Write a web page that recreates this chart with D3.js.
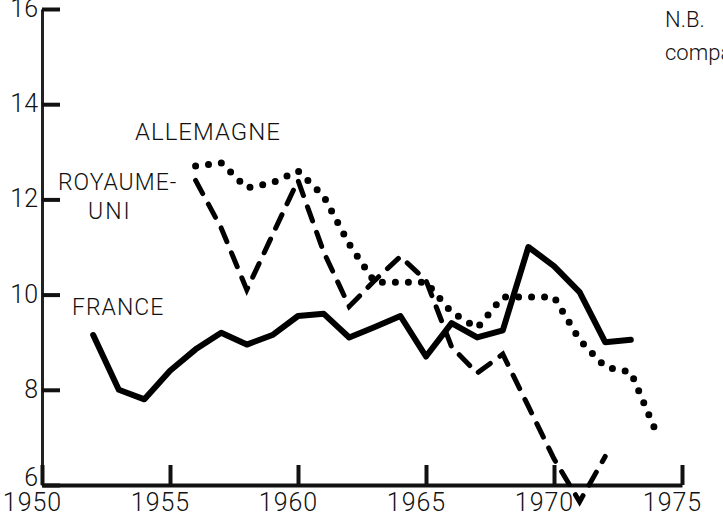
<!DOCTYPE html>
<html>
<head>
<meta charset="utf-8">
<script src="https://cdn.jsdelivr.net/npm/d3@7"></script>
<style>
  body { margin: 0; background: #fff; }
  svg { display: block; }
  text { font-family: Roboto, "DejaVu Sans", sans-serif; font-weight: 300; fill: #111; }
</style>
</head>
<body>
<div id="chart"></div>
<script>
// values
var franceYears = d3.range(1952, 1974);
var franceValues = [9.15, 8.0, 7.8, 8.4, 8.85, 9.2, 8.95, 9.15, 9.55, 9.6, 9.1, 9.32, 9.55, 8.7, 9.4, 9.1, 9.25, 11.0, 10.6, 10.05, 9.0, 9.05];

var ukYears = d3.range(1956, 1973);
var ukValues = [12.4, 11.4, 10.1, 11.25, 12.4, 10.9, 9.75, 10.3, 10.8, 10.3, 8.9, 8.35, 8.75, 7.65, 6.55, 5.65, 6.6];

var germanyYears = d3.range(1956, 1975);
var germanyValues = [12.7, 12.77, 12.24, 12.35, 12.6, 12.07, 11.06, 10.26, 10.26, 10.26, 9.63, 9.3, 9.95, 9.95, 9.95, 9.05, 8.48, 8.37, 7.1];

var xTicks = [1950, 1955, 1960, 1965, 1970, 1975];
var yTicks = [6, 8, 10, 12, 14, 16];

var svgWidth = 723, svgHeight = 512;

var svg = d3.select("#chart")
  .append("svg")
  .attr("width", svgWidth)
  .attr("height", svgHeight);

var x = d3.scaleLinear().domain([1950, 1975]).range([42, 682]);
var y = d3.scaleLinear().domain([6, 16]).range([485, 9]);

// y axis, ticks pointing inward
var yAxis = svg.append("g")
  .attr("transform", "translate(" + x(1950) + ",0)")
  .call(d3.axisLeft(y).tickValues(yTicks).tickSizeInner(-18).tickSizeOuter(0).tickPadding(4));
yAxis.select(".domain").attr("stroke", "#222").attr("stroke-width", 3);
yAxis.selectAll(".tick line").attr("stroke", "#111").attr("stroke-width", 4);
yAxis.selectAll(".tick text")
  .style("font-size", "25px")
  .attr("dy", function(d) { return d === 6 ? "0" : "0.3em"; });

// x axis, ticks pointing up
var xAxis = svg.append("g")
  .attr("transform", "translate(0," + y(6) + ")")
  .call(d3.axisBottom(x).tickValues(xTicks).tickFormat(d3.format("d")).tickSizeInner(-20).tickSizeOuter(0).tickPadding(8));
xAxis.select(".domain").attr("stroke", "#111").attr("stroke-width", 4);
xAxis.selectAll(".tick line").attr("stroke", "#111").attr("stroke-width", 4);
xAxis.selectAll(".tick text").style("font-size", "25px").attr("dx", "-0.4em").style("letter-spacing", "1px");

var line = d3.line()
  .x(function(d) { return x(d.year); })
  .y(function(d) { return y(d.value); });

function zipSeries(years, values) {
  return years.map(function(yr, i) { return { year: yr, value: values[i] }; });
}

// Allemagne - dotted
svg.append("path")
  .datum(zipSeries(germanyYears, germanyValues))
  .attr("d", line)
  .attr("fill", "none")
  .attr("stroke", "#000")
  .attr("stroke-width", 7)
  .attr("stroke-linecap", "round")
  .attr("stroke-dasharray", "0,13");

// Royaume-Uni - dashed
svg.append("path")
  .datum(zipSeries(ukYears, ukValues))
  .attr("d", line)
  .attr("fill", "none")
  .attr("stroke", "#000")
  .attr("stroke-width", 5)
  .attr("stroke-linecap", "round")
  .attr("stroke-dasharray", "15,12");

// France - solid
svg.append("path")
  .datum(zipSeries(franceYears, franceValues))
  .attr("d", line)
  .attr("fill", "none")
  .attr("stroke", "#000")
  .attr("stroke-width", 6)
  .attr("stroke-linejoin", "round")
  .attr("stroke-linecap", "round");

// series labels
svg.append("text").attr("x", 135).attr("y", 140).style("font-size", "24px").style("letter-spacing", "1px").text("ALLEMAGNE");
svg.append("text").attr("x", 58).attr("y", 190).style("font-size", "23px").style("letter-spacing", "1px").text("ROYAUME-");
svg.append("text").attr("x", 88).attr("y", 219).style("font-size", "23px").style("letter-spacing", "2px").text("UNI");
svg.append("text").attr("x", 72).attr("y", 315).style("font-size", "23px").style("letter-spacing", "1px").text("FRANCE");

// note, cut off at the page edge
svg.append("text").attr("x", 665).attr("y", 27).style("font-size", "22px").text("N.B.");
svg.append("text").attr("x", 665).attr("y", 60).style("font-size", "22px").text("comparaisons");
</script>
</body>
</html>
